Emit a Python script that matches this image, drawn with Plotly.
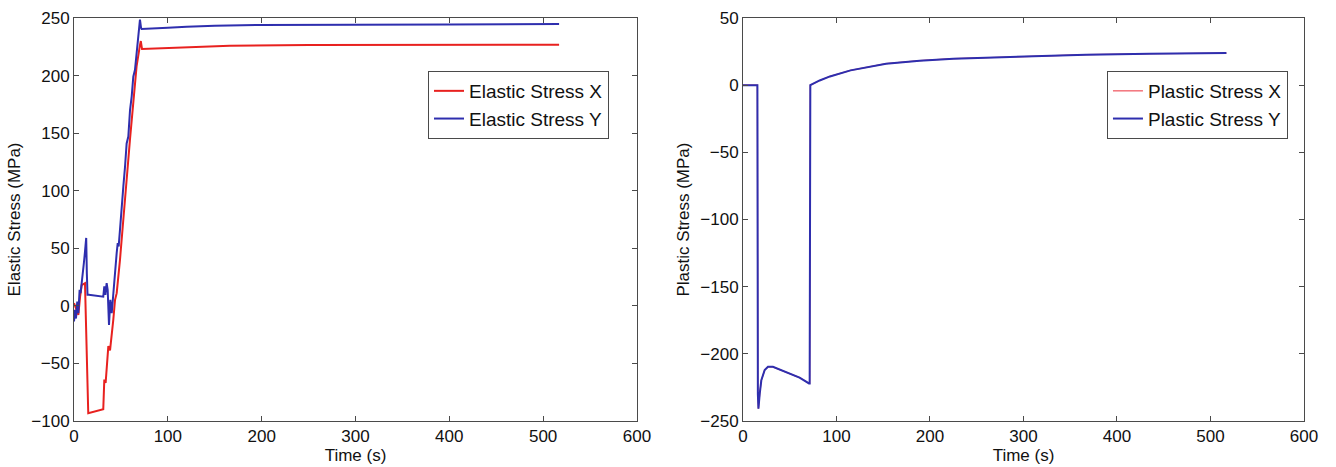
import plotly.graph_objects as go
from plotly.subplots import make_subplots

# Elastic stress histories (left panel)
elastic_x_time = [0, 2.1, 4.6, 6.5, 8.2, 11.7, 15.2, 31.2, 32.3, 33.7, 34.8, 36.6, 38.4, 40.2, 41.9,
                  43.7, 45.5, 49.0, 52.6, 56.1, 59.6, 63.2, 66.7, 70.2, 71.2, 72.5, 100, 130, 166, 250, 517]
elastic_x_stress = [2.3, -2.0, -7.8, 8.0, 18.0, 19.7, -93.3, -89.8, -64.0, -67.0, -57.0, -35.0, -38.6, -21.0, -12.0,
                    5.0, 11.0, 40.0, 72.0, 109.5, 144.0, 179.0, 208.0, 226.0, 230.0, 223.0, 224.0, 225.0, 226.0, 226.6, 226.8]

elastic_y_time = [0, 1.1, 2.1, 3.5, 4.6, 6.0, 7.0, 8.8, 10.5, 11.6, 13.0, 13.7, 14.4, 15.8, 31.2, 32.3, 33.4,
                  34.8, 35.9, 37.3, 38.7, 40.2, 41.2, 42.6, 44.1, 45.5, 46.6, 47.6, 49.0, 50.8, 52.6, 54.4,
                  56.1, 57.9, 59.7, 61.5, 63.2, 65.0, 66.8, 68.6, 70.3, 71.5, 72.0, 100, 120, 150, 198, 400, 517]
elastic_y_stress = [-13.6, -3.5, -11.0, 3.8, -6.4, 14.0, 11.0, 22.6, 37.0, 46.0, 59.0, 28.0, 9.6, 9.6, 8.0, 17.0, 9.6,
                    19.7, 14.0, -16.5, 5.2, -6.4, 5.0, 17.0, 34.0, 46.0, 54.5, 51.6, 66.0, 89.0, 103.7, 121.0,
                    141.0, 147.0, 170.0, 182.0, 199.0, 205.0, 219.6, 231.0, 248.6, 241.3, 240.5, 241.5, 242.5, 243.3, 244.0, 244.4, 244.8]

# Plastic stress histories (right panel); X and Y coincide
plastic_time = [0, 15.4, 15.9, 16.5, 17.9, 19.6, 23.2, 26.7, 32.0, 46.3, 60.5, 70.6, 71.3,
                72.0, 82, 93, 115, 153, 189, 225, 296, 367, 435, 517]
plastic_x_stress = [0, 0, -230.0, -240.8, -229.6, -219.7, -212.0, -209.7, -209.7, -213.5, -217.7, -222.0, -222.0,
                    0, 3.5, 6.5, 11.0, 16.0, 18.2, 19.7, 21.4, 22.7, 23.4, 23.9]
plastic_y_stress = [0, 0, -230.0, -240.8, -229.6, -219.7, -212.0, -209.7, -209.7, -213.5, -217.7, -222.0, -222.0,
                    0, 3.5, 6.5, 11.0, 16.0, 18.2, 19.7, 21.4, 22.7, 23.4, 23.9]

time_ticks = [0, 100, 200, 300, 400, 500, 600]
elastic_ticks = [-100, -50, 0, 50, 100, 150, 200, 250]
plastic_ticks = [-250, -200, -150, -100, -50, 0, 50]

RED = "#e8211f"
BLUE = "#2e2eae"
AXIS = "#4a4a4a"
FONT = "Liberation Sans, Arial, sans-serif"

fig = make_subplots(rows=1, cols=2, horizontal_spacing=0.086)

fig.add_trace(go.Scatter(x=elastic_x_time, y=elastic_x_stress, mode="lines", name="Elastic Stress X",
                         line=dict(color=RED, width=2), legend="legend"), row=1, col=1)
fig.add_trace(go.Scatter(x=elastic_y_time, y=elastic_y_stress, mode="lines", name="Elastic Stress Y",
                         line=dict(color=BLUE, width=2), legend="legend"), row=1, col=1)
fig.add_trace(go.Scatter(x=plastic_time, y=plastic_x_stress, mode="lines", name="Plastic Stress X",
                         line=dict(color="#f0505a", width=1.2), legend="legend2"), row=1, col=2)
fig.add_trace(go.Scatter(x=plastic_time, y=plastic_y_stress, mode="lines", name="Plastic Stress Y",
                         line=dict(color=BLUE, width=2), legend="legend2"), row=1, col=2)

axis_common = dict(showline=True, linecolor=AXIS, linewidth=1, mirror="ticks", ticks="inside",
                   ticklen=5, tickcolor=AXIS, showgrid=False, zeroline=False, automargin=False,
                   tickfont=dict(family=FONT, size=17, color="#111111"))

fig.update_xaxes(range=[0, 600], tickvals=time_ticks, title=dict(text="Time (s)", standoff=1,
                 font=dict(family=FONT, size=17, color="#111111")), **axis_common)
fig.update_xaxes(domain=[0, 0.4577], row=1, col=1)
fig.update_xaxes(domain=[0.5439, 1.0], row=1, col=2)

fig.update_yaxes(range=[-100, 250], tickvals=elastic_ticks, row=1, col=1,
                 title=dict(text="Elastic Stress (MPa)", standoff=6,
                            font=dict(family=FONT, size=17, color="#111111")), **axis_common)
fig.update_yaxes(range=[-250, 50], tickvals=plastic_ticks, row=1, col=2,
                 title=dict(text="Plastic Stress (MPa)", standoff=6,
                            font=dict(family=FONT, size=17, color="#111111")), **axis_common)

legend_common = dict(xanchor="left", yanchor="top", bgcolor="white", bordercolor=AXIS, borderwidth=1,
                     font=dict(family=FONT, size=19, color="#111111"), itemwidth=30,
                     tracegroupgap=0)

fig.update_layout(
    width=1336, height=467,
    margin=dict(l=74, r=32, t=18, b=46, autoexpand=False),
    plot_bgcolor="white", paper_bgcolor="white",
    showlegend=True,
    legend=dict(x=0.2878, y=0.8685, **legend_common),
    legend2=dict(x=0.8398, y=0.8685, **legend_common),
)

fig.write_html("out.html")
